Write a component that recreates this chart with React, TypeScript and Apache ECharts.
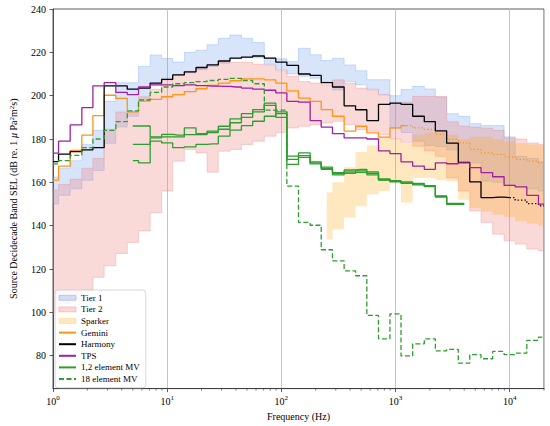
import React, { useEffect, useRef } from "react";
import * as echarts from "echarts";

// Decidecade band centre frequencies (Hz)
const freqs = [1, 1.25, 1.6, 2, 2.5, 3.15, 4, 5, 6.3, 8, 10, 12.5, 16, 20, 25, 31.5, 40, 50, 63, 80, 100, 125, 160, 200, 250, 315, 400, 500, 630, 800, 1000, 1250, 1600, 2000, 2500, 3150, 4000, 5000, 6300, 8000, 10000, 12500, 16000, 20000];

const tier1Upper = [162.5, 166.5, 170, 177.5, 184, 197.5, 206, 206, 213.5, 218.8, 217.2, 215.5, 220, 221, 223.5, 226.5, 228, 226.5, 224.5, 217.5, 217, 215.8, 221.9, 218.9, 216.2, 217.3, 214.2, 211.5, 207.4, 207.4, 200, 202.8, 204.3, 203.1, 199.4, 191.7, 190.5, 187.1, 186.2, 186.2, 181, 172, 171, 169.5];
const tier1Lower = [150, 154, 157, 161, 165.5, 178, 185.5, 190.5, 198, 205, 208, 209.5, 210.5, 212, 213.5, 215, 217, 217.5, 217.5, 214.5, 212, 210, 209, 208, 206.5, 202.6, 206.5, 205, 203, 200.5, 185, 183, 179, 177, 176.5, 175, 169, 169, 160.5, 160, 159, 158, 157, 156];

const tier2Upper = [156.5, 159, 161.5, 166.5, 171, 184.5, 192.5, 192.5, 199.5, 203, 207, 209.5, 211, 212.7, 214.2, 215.4, 215.4, 215.4, 214.5, 214.2, 211.5, 209, 206.5, 205.8, 205, 207.3, 205.8, 203.5, 202.7, 200.4, 196.6, 197, 199.7, 199.7, 199.7, 188, 186, 185.5, 185, 184, 180.5, 180, 178.2, 177.5];
const tier2Lower = [100, 104, 106, 110.3, 116.2, 121.5, 127.2, 132.3, 137.6, 146, 156, 169.8, 175.2, 173.6, 164.7, 174.4, 175.2, 177.5, 179, 181.3, 183, 185.1, 185.9, 186.6, 187.4, 188.2, 186.6, 184.3, 183.6, 182, 180, 178.5, 176.7, 174.5, 172, 162, 156, 146.8, 141.5, 136.1, 133, 131.5, 129.2, 128.4];

// Sparker band: starts at 250 Hz (index 24)
const sparkerStart = 24;
const sparkerUpper = [155.3, 160, 167, 174, 177, 181, 180, 178, 182, 183, 183, 182, 180, 181, 181, 180, 179, 178, 177.5, 177];
const sparkerLower = [133.8, 138.4, 143.8, 149, 154.5, 156, 160, 150.7, 162, 162, 161, 160.5, 152, 148, 146.5, 145, 144, 142, 141, 140];

const gemini = [161, 167.5, 174.8, 181.8, 190.8, 200.2, 198.8, 192.5, 197.5, 198.3, 199.5, 200.5, 201.9, 203.2, 204.7, 205.8, 206.9, 207.8, 207.8, 207.3, 205.8, 202.2, 198.9, 197.4, 193.6, 190.5, 183.6, 185.9, 182.8, 180.9, 185.1, 186.2, 185.1, 184.4, 182.1, 179.8, 178.2, 175.2, 173.6, 172.9, 171.8, 170.6, 169.8, 169];
const geminiSolidEnd = 31;

const harmony = [169.6, 173, 174.2, 175, 176, 204.5, 204.5, 203, 203.5, 205.8, 207.5, 209.6, 211, 213, 214.2, 216, 217.3, 217.8, 218.3, 217.3, 215.5, 214, 210, 209.4, 206, 204, 195.3, 193.5, 188.5, 196, 196.6, 196, 190.5, 188, 183.8, 178.1, 169.2, 160.2, 153, 153.2, 153, 151.8, 150.2, 149.2];
const harmonySolidEnd = 40;

const tps = [173.5, 179, 186.5, 194.5, 204.5, 206, 201.5, 200.5, 204, 205, 205, 204.6, 205, 204.6, 204.4, 204.3, 204, 203.5, 203, 202.5, 201.3, 197.4, 197, 188.5, 185.5, 182.5, 180.5, 180.5, 180, 174.5, 173.3, 169.5, 167.5, 166, 169, 168.6, 169, 166.8, 164.5, 162.6, 158.6, 157.9, 154, 150];

// 1,2 element MV: three measurements, starting at 5 Hz (index 7)
const mvStart = 7;
const mvA = [186, 186, 181, 182.1, 181.8, 185.1, 182.5, 183.6, 185.9, 189.3, 191.7, 193.6, 196.6, 192.5, 172.1, 173.6, 169.5, 167, 164.5, 165.7, 166, 164.8, 161.6, 160.8, 160.2, 159.5, 158.5, 153.8, 150.3, 150.3];
const mvB = [177.5, 177.5, 180.5, 181, 181, 182, 182, 183, 184.5, 187.5, 190, 192.5, 195.5, 190, 170.6, 172.3, 169, 166.5, 164, 164.8, 165.3, 164.2, 161.2, 160.5, 159.8, 159.2, 158.2, 153.5, 150, 150];
const mvC = [170, 169, 179, 178.2, 176, 176.4, 177.5, 177.8, 181.3, 184.1, 186.2, 188.2, 190.5, 191.7, 168.3, 171.5, 168.5, 166, 163.5, 164.2, 164.6, 163.5, 161, 160.2, 159.5, 158.8, 158, 153.2, 149.8, 149.8];

const mv18 = [168.5, 170, 172.5, 176, 180, 184, 188, 193, 198, 201.5, 204, 205.5, 206, 206.5, 207, 207.5, 208, 207, 205.5, 193.3, 193.3, 158.3, 141.5, 140.2, 128.9, 123.8, 119.2, 116.9, 98.6, 87.8, 99.3, 79.9, 85.5, 87.8, 82.2, 82.9, 76.6, 80.5, 78.6, 82, 80.5, 81.2, 87.1, 88.6];

const yTicks = [80, 100, 120, 140, 160, 180, 200, 220, 240];
const minorXTicks = [2, 3, 4, 5, 6, 7, 8, 9, 20, 30, 40, 50, 60, 70, 80, 90, 200, 300, 400, 500, 600, 700, 800, 900, 2000, 3000, 4000, 5000, 6000, 7000, 8000, 9000, 20000];

const Y_MIN = 64.83;
const Y_MAX = 240;
const FONT = "'Liberation Serif', 'Times New Roman', serif";

const pts = (vals: number[], start = 0) => vals.map((v, i) => [freqs[start + i], v]);

// Filled step band drawn as one polygon through the axes' own scales
function band(name: string, hi: number[], lo: number[], fill: string, edge: string | null, start = 0) {
  const rows = hi.map((h, i) => [freqs[start + i], lo[i], h]);
  return {
    name, type: "custom", silent: true, z: 1, clip: true,
    data: rows,
    encode: { x: 0, y: [1, 2] },
    itemStyle: { color: fill },
    renderItem: (params: any, api: any) => {
      if (params.dataIndex !== 0) return null;
      const xs = rows.map((r) => api.coord([r[0], r[1]])[0]);
      const edges = xs.map((x, i) => (i === 0 ? x : (xs[i - 1] + x) / 2));
      edges.push(xs[xs.length - 1]);
      const up: number[][] = [];
      const dn: number[][] = [];
      rows.forEach((r, i) => {
        const yh = api.coord([r[0], r[2]])[1];
        const yl = api.coord([r[0], r[1]])[1];
        up.push([edges[i], yh], [edges[i + 1], yh]);
        dn.push([edges[i], yl], [edges[i + 1], yl]);
      });
      const poly = up.concat(dn.slice().reverse());
      const children: any[] = [
        { type: "polygon", shape: { points: poly }, style: { fill, stroke: null } },
      ];
      if (edge) {
        children.push({ type: "polyline", shape: { points: up }, style: { fill: null, stroke: edge, lineWidth: 0.8 } });
        children.push({ type: "polyline", shape: { points: dn }, style: { fill: null, stroke: edge, lineWidth: 0.8 } });
      }
      return { type: "group", children };
    },
  };
}

function line(name: string, data: number[][], color: string, type: any = "solid", z = 3) {
  return {
    name, type: "line", step: "middle", symbol: "none", silent: true, data,
    lineStyle: { color, width: 1.3, type },
    itemStyle: { color },
    z,
  };
}

export default function App() {
  const ref = useRef<HTMLDivElement>(null);
  useEffect(() => {
    if (!ref.current) return;
    const chart = echarts.init(ref.current, undefined, { renderer: "svg" });
    const orange = "#ff9514";
    const purple = "#a0209f";
    const green = "#2e9e2e";
    const option: any = {
      animation: false,
      backgroundColor: "#ffffff",
      grid: { left: 51, right: 6, top: 9, bottom: 36, show: true, borderColor: "#333", borderWidth: 0.8, backgroundColor: "transparent" },
      xAxis: {
        type: "log", logBase: 10, min: 1, max: 20000,
        axisLine: { show: true, onZero: false, lineStyle: { color: "#333", width: 0.8 } },
        axisTick: { show: true, length: 3.5, lineStyle: { color: "#333", width: 0.8 } },
        axisLabel: {
          showMaxLabel: false, margin: 6, color: "#000",
          formatter: (v: number) => "{b|10}{e|" + String(Math.round(Math.log10(v))) + "}",
          rich: {
            b: { fontFamily: FONT, fontSize: 10, lineHeight: 13, color: "#000" },
            e: { fontFamily: FONT, fontSize: 7, lineHeight: 7, verticalAlign: "top", color: "#000" },
          },
        },
        splitLine: { show: true, lineStyle: { color: "#c4c4c4", width: 1 } },
        name: "Frequency (Hz)", nameLocation: "middle", nameGap: 20,
        nameTextStyle: { fontFamily: FONT, fontSize: 10, color: "#000" },
      },
      yAxis: {
        type: "value", min: Y_MIN, max: Y_MAX,
        axisLine: { show: true, lineStyle: { color: "#333", width: 0.8 } },
        axisTick: { show: true, length: 3.5, customValues: yTicks, lineStyle: { color: "#333", width: 0.8 } },
        axisLabel: { customValues: yTicks, fontFamily: FONT, fontSize: 10, color: "#000", margin: 7 },
        splitLine: { show: false },
        name: "Source Decidecade Band SEL (dB re. 1 {i|μ} Pa{s|2}m{s|2}s)",
        nameLocation: "middle", nameGap: 35,
        nameTextStyle: {
          fontFamily: FONT, fontSize: 10, color: "#000",
          rich: {
            i: { fontFamily: FONT, fontSize: 10, fontStyle: "italic", color: "#000" },
            s: { fontFamily: FONT, fontSize: 7, lineHeight: 7, verticalAlign: "top", color: "#000" },
          },
        },
      },
      legend: {
        orient: "vertical", left: 55, top: 290,
        padding: [2, 6, 3, 3],
        itemWidth: 17, itemHeight: 5, itemGap: 0,
        backgroundColor: "rgba(255,255,255,0.8)", borderColor: "#cccccc", borderWidth: 0.8, borderRadius: 3,
        textStyle: { fontFamily: FONT, fontSize: 9, color: "#000", lineHeight: 11.6 },
        selectedMode: false,
        data: [
          { name: "Tier 1", icon: "rect", itemStyle: { color: "rgba(100,149,237,0.28)", borderColor: "rgba(100,149,237,0.45)", borderWidth: 0.8 } },
          { name: "Tier 2", icon: "rect", itemStyle: { color: "rgba(240,128,128,0.32)", borderColor: "rgba(240,128,128,0.45)", borderWidth: 0.8 } },
          { name: "Sparker", icon: "rect", itemStyle: { color: "rgba(255,165,0,0.25)", borderColor: "rgba(255,165,0,0.25)", borderWidth: 0.8 } },
          { name: "Gemini", itemStyle: { opacity: 0 } },
          { name: "Harmony", itemStyle: { opacity: 0 } },
          { name: "TPS", itemStyle: { opacity: 0 } },
          { name: "1,2 element MV", itemStyle: { opacity: 0 } },
          { name: "18 element MV", itemStyle: { opacity: 0 } },
        ],
      },
      series: [
        band("Tier 1", tier1Upper, tier1Lower, "rgba(100,149,237,0.26)", "rgba(100,149,237,0.35)"),
        band("Tier 2", tier2Upper, tier2Lower, "rgba(240,128,128,0.3)", "rgba(240,128,128,0.4)"),
        band("Sparker", sparkerUpper, sparkerLower, "rgba(255,165,0,0.25)", null, sparkerStart),
        line("Gemini", pts(gemini.slice(0, geminiSolidEnd + 1)), orange),
        line("Gemini", pts(gemini.slice(geminiSolidEnd), geminiSolidEnd), orange, [1.3, 2.2]),
        line("Harmony", pts(harmony.slice(0, harmonySolidEnd + 1)), "#000000"),
        line("Harmony", pts(harmony.slice(harmonySolidEnd), harmonySolidEnd), "#000000", [1.3, 2.2]),
        line("TPS", pts(tps), purple),
        line("1,2 element MV", pts(mvA, mvStart), green),
        line("1,2 element MV", pts(mvB, mvStart), green),
        line("1,2 element MV", pts(mvC, mvStart), green),
        line("18 element MV", pts(mv18), green, [5, 2.5]),
        {
          name: "minorTicks", type: "custom", silent: true, z: 10,
          data: minorXTicks.map((v) => [v, Y_MIN]),
          renderItem: (_p: any, api: any) => {
            const p = api.coord([api.value(0), Y_MIN]);
            return { type: "line", shape: { x1: p[0], y1: p[1], x2: p[0], y2: p[1] + 2 }, style: { stroke: "#333", lineWidth: 0.6 } };
          },
        },
      ],
    };
    chart.setOption(option);
    return () => chart.dispose();
  }, []);
  return <div ref={ref} style={{ position: "fixed", left: 0, top: 0, width: 550, height: 426 }} />;
}
